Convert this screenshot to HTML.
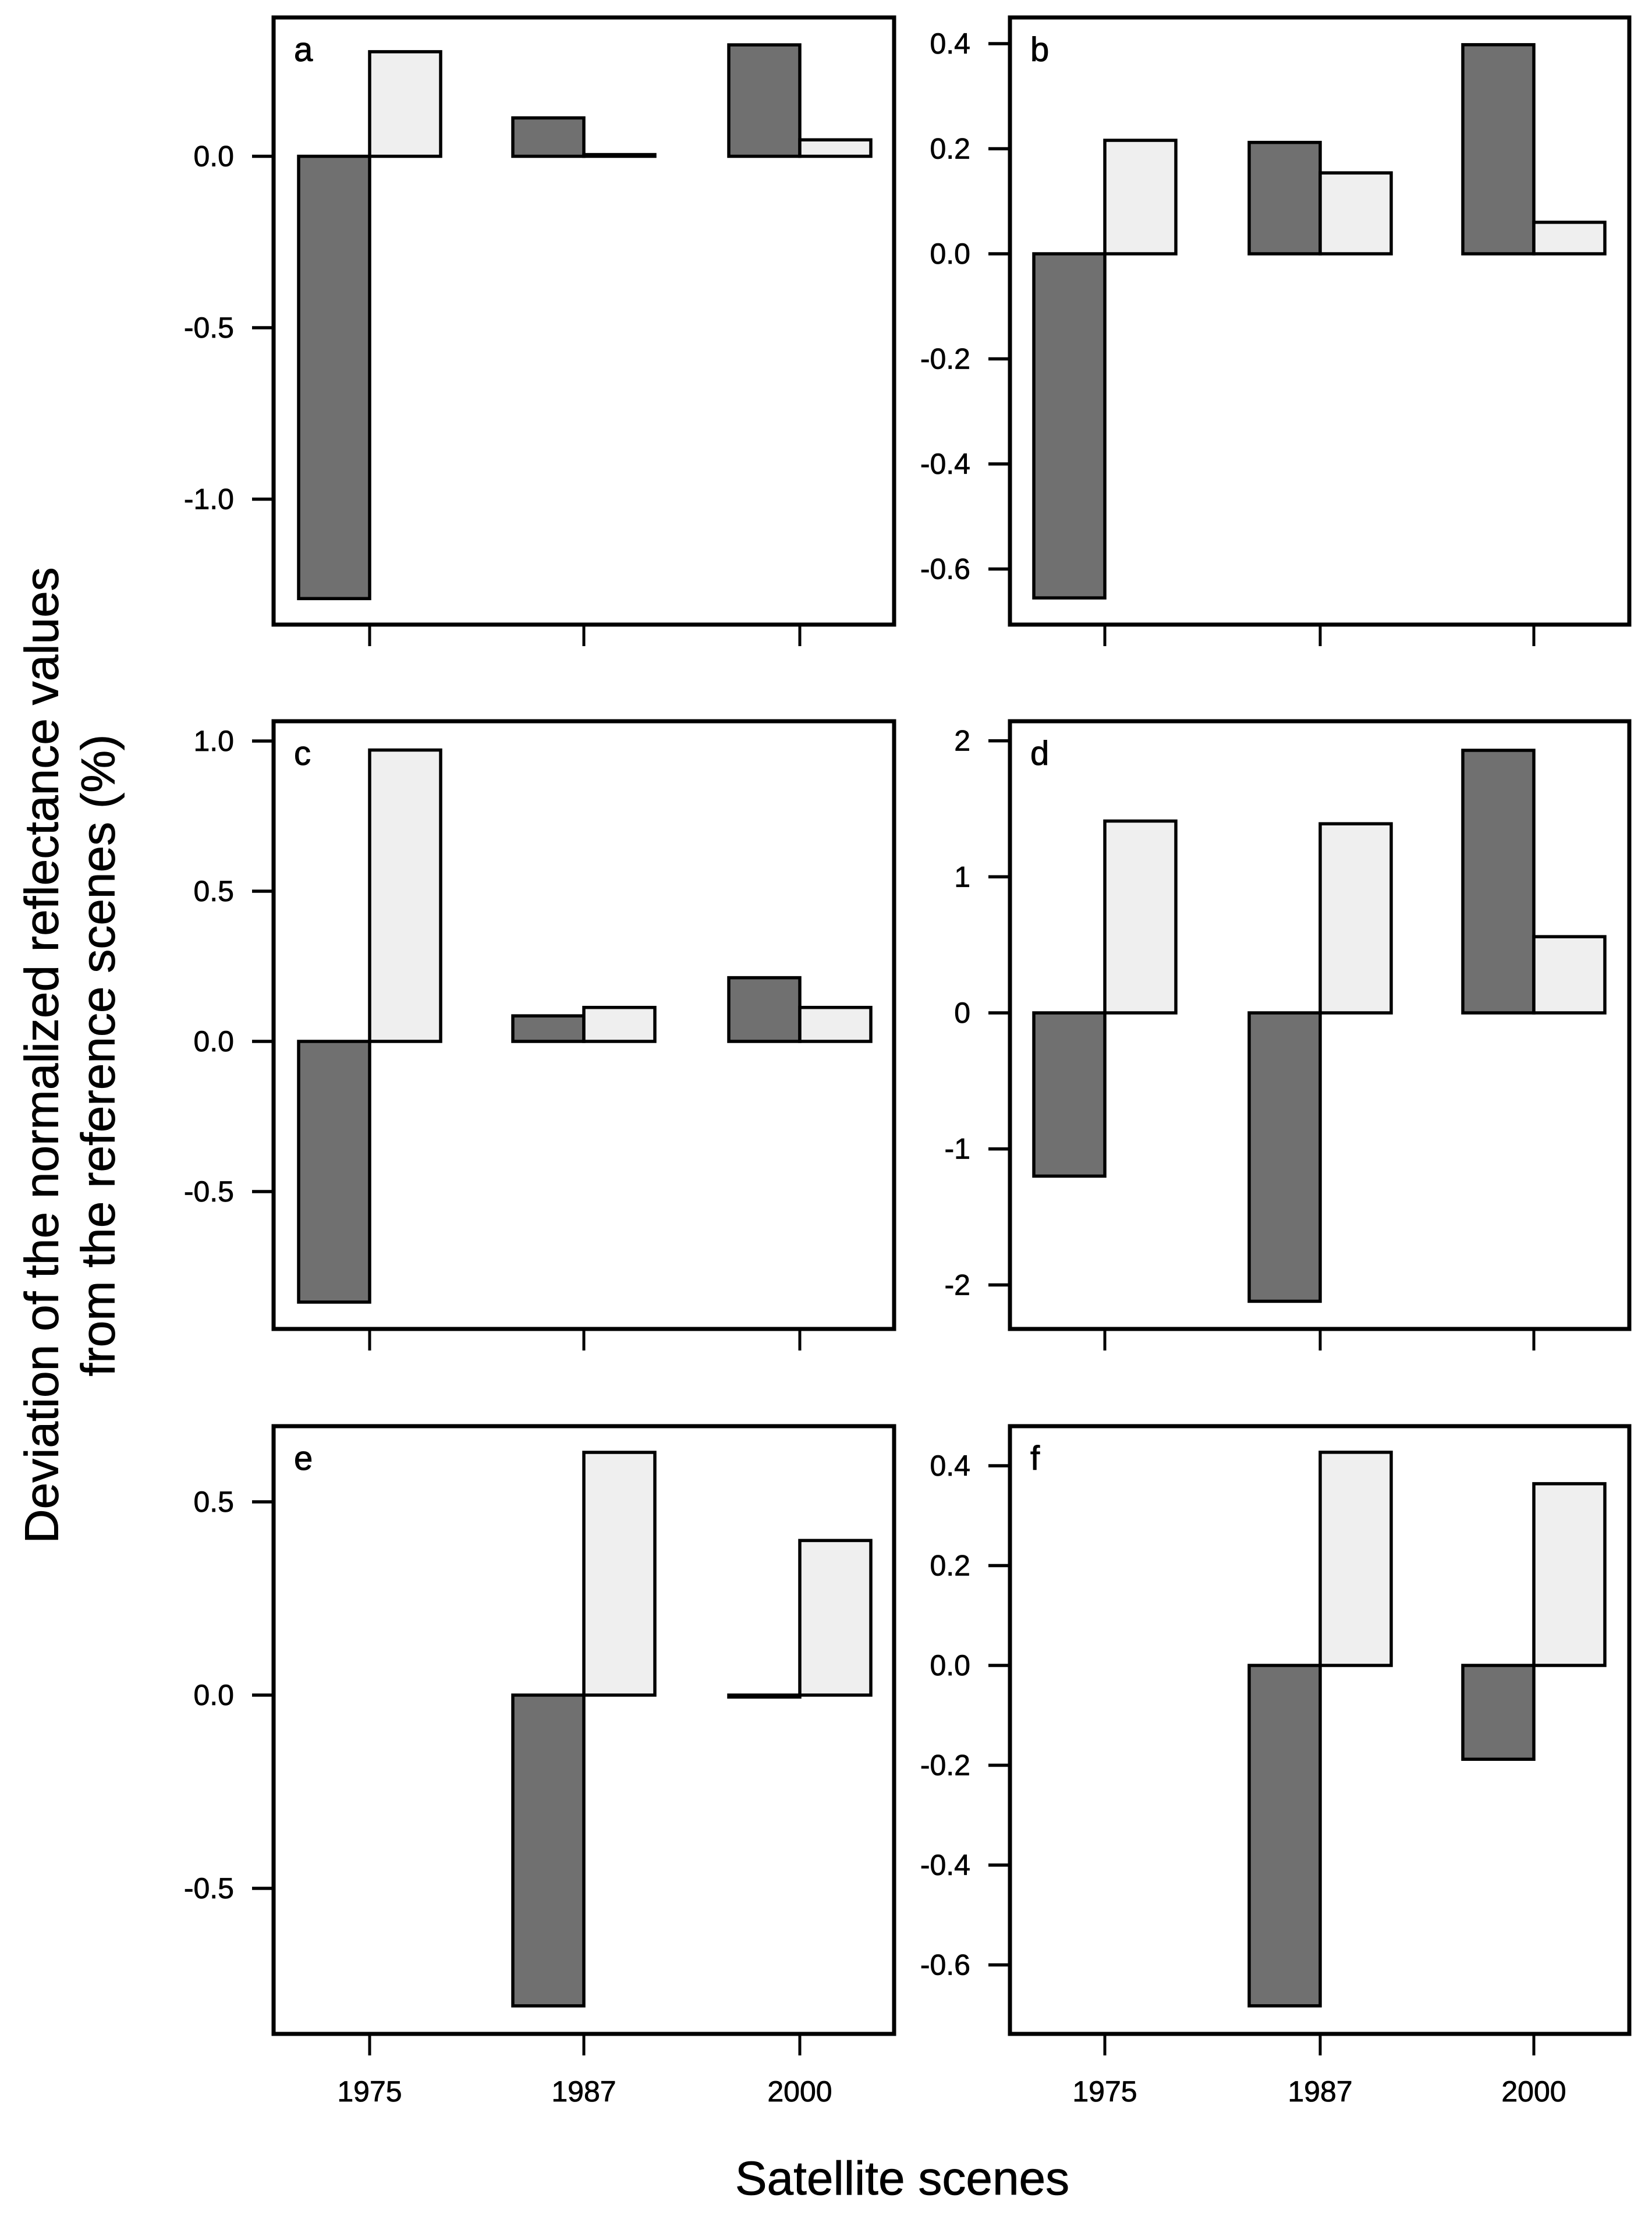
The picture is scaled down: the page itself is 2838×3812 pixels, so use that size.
<!DOCTYPE html>
<html><head><meta charset="utf-8">
<style>
html,body{margin:0;padding:0;background:#fff;}
svg{display:block;font-family:"Liberation Sans",Arial,sans-serif;}
</style></head>
<body>
<svg id="chart" width="2838" height="3812" viewBox="0 0 2838 3812" xmlns="http://www.w3.org/2000/svg">
<text transform="translate(78,1813) rotate(-90)" text-anchor="middle" font-size="82" dominant-baseline="middle" stroke="#000" stroke-width="0.8">Deviation of the normalized reflectance values</text>
<text transform="translate(175,1813) rotate(-90)" text-anchor="middle" font-size="82" dominant-baseline="middle" stroke="#000" stroke-width="0.8">from the reference scenes (%)</text>
<text x="1550" y="3770" text-anchor="middle" font-size="82" stroke="#000" stroke-width="0.8">Satellite scenes</text>
</svg>
<script>
const categories = ["1975","1987","2000"];
const panelLetters = ["a","b","c","d","e","f"];
const darkA = [-1.29, 0.112, 0.325];
const lightA = [0.305, 0.005, 0.048];
const darkB = [-0.655, 0.212, 0.398];
const lightB = [0.216, 0.154, 0.06];
const darkC = [-0.868, 0.085, 0.212];
const lightC = [0.97, 0.113, 0.113];
const darkD = [-1.2, -2.12, 1.93];
const lightD = [1.41, 1.39, 0.56];
const darkE = [null, -0.804, -0.005];
const lightE = [null, 0.628, 0.40];
const darkF = [null, -0.682, -0.188];
const lightF = [null, 0.427, 0.364];
const ticksA = [0.0, -0.5, -1.0];
const ticksB = [0.4, 0.2, 0.0, -0.2, -0.4, -0.6];
const ticksC = [1.0, 0.5, 0.0, -0.5];
const ticksD = [2, 1, 0, -1, -2];
const ticksE = [0.5, 0.0, -0.5];
const ticksF = [0.4, 0.2, 0.0, -0.2, -0.4, -0.6];
const decA = 1, decB = 1, decC = 1, decD = 0, decE = 1, decF = 1;

const NS = "http://www.w3.org/2000/svg";
const svg = document.getElementById('chart');
function mk(tag, attrs){const e=document.createElementNS(NS,tag);for(const k in attrs)e.setAttribute(k,attrs[k]);svg.appendChild(e);return e;}

const cols = [{l:470,r:1536,ticks:[635,1003,1374]},{l:1735,r:2799,ticks:[1898,2268,2635]}];
const rows = [{t:30,b:1073},{t:1239,b:2283},{t:2450,b:3494}];
const panels = [
 {c:0,r:0,dark:darkA,light:lightA,ticks:ticksA,dec:decA,zero:268.5,ppu:589},
 {c:1,r:0,dark:darkB,light:lightB,ticks:ticksB,dec:decB,zero:436,ppu:902.5},
 {c:0,r:1,dark:darkC,light:lightC,ticks:ticksC,dec:decC,zero:1789,ppu:516},
 {c:1,r:1,dark:darkD,light:lightD,ticks:ticksD,dec:decD,zero:1740,ppu:233.7},
 {c:0,r:2,dark:darkE,light:lightE,ticks:ticksE,dec:decE,zero:2912,ppu:664},
 {c:1,r:2,dark:darkF,light:lightF,ticks:ticksF,dec:decF,zero:2861,ppu:857.5}
];
const BW = 122;
panels.forEach((p,i)=>{
  const col=cols[p.c], row=rows[p.r];
  const y = v => p.zero - v*p.ppu;
  categories.forEach((cat,k)=>{
    const cx = col.ticks[k];
    [[p.dark[k],cx-BW,'#707070','dark'],[p.light[k],cx,'#efefef','light']].forEach(([v,x0,fill,nm])=>{
      if(v===null) return;
      const y0=y(0), y1=y(v);
      const r = mk('rect',{x:x0,y:Math.min(y0,y1),width:BW,height:Math.max(Math.abs(y1-y0),1),fill:fill,stroke:'#000','stroke-width':5.5});
      
      
    });
  });
  const b = mk('rect',{x:col.l,y:row.t,width:col.r-col.l,height:row.b-row.t,fill:'none',stroke:'#000','stroke-width':7});
  
  
  p.ticks.forEach(t=>{
    const yy=y(t);
    const tl = mk('line',{x1:col.l-37,x2:col.l,y1:yy,y2:yy,stroke:'#000','stroke-width':5.5});
    
    
    const tx = mk('text',{x:col.l-68,y:yy,'text-anchor':'end','dominant-baseline':'central','font-size':50,stroke:'#000','stroke-width':0.8});
    
    
    tx.textContent = t.toFixed(p.dec);
  });
  categories.forEach((cat,k)=>{
    const xl = mk('line',{x1:col.ticks[k],x2:col.ticks[k],y1:row.b,y2:row.b+37,stroke:'#000','stroke-width':5});
    
    
    if(p.r===2){
      const xt = mk('text',{x:col.ticks[k],y:3610,'text-anchor':'middle','font-size':50,stroke:'#000','stroke-width':0.8});
      
      
      xt.textContent = cat;
    }
  });
  const lt = mk('text',{x:col.l+35,y:row.t+75,'font-size':58,stroke:'#000','stroke-width':1});
  
  
  lt.textContent = panelLetters[i];
});
</script>
</body></html>
